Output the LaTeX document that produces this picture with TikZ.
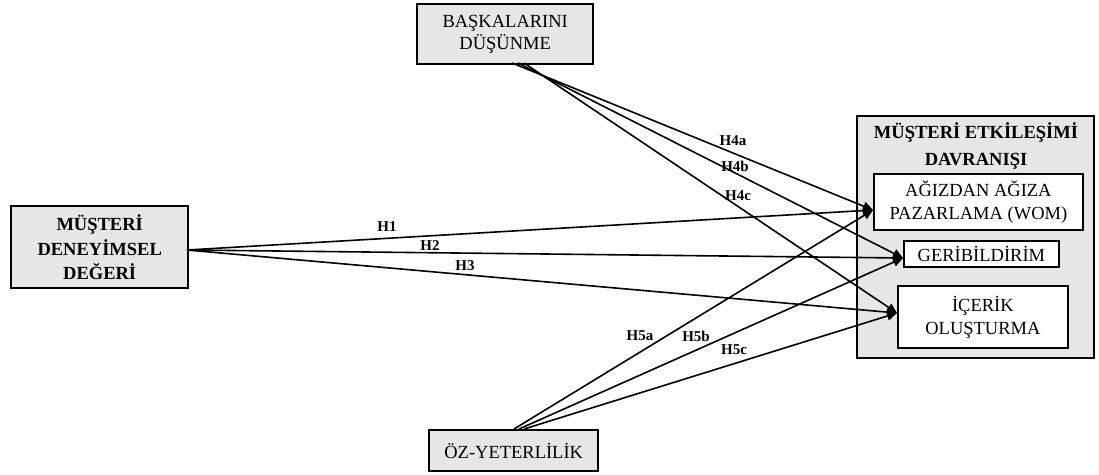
\documentclass[tikz,border=0pt]{standalone}
\usepackage{fontspec}
\setmainfont{Liberation Serif}
\usetikzlibrary{arrows.meta}
\definecolor{boxgray}{HTML}{E6E6E6}
\tikzset{
  gbox/.style={draw=black, line width=2.4pt, fill=boxgray, inner sep=0pt, align=center, font=\fontsize{18.5}{22}\selectfont},
  wbox/.style={draw=black, line width=1.8pt, fill=white, inner sep=0pt, align=center, font=\fontsize{18.5}{23}\selectfont},
  conn/.style={line width=1.6pt, -{Triangle[length=10pt,width=9pt]}},
  hlab/.style={font=\bfseries\fontsize{15}{17}\selectfont, inner sep=1pt},
}
\begin{document}
\begin{tikzpicture}[x=1pt,y=-1pt]
\useasboundingbox (0,0) rectangle (1099,474);
% outer box
\node[gbox, minimum width=237pt, minimum height=242pt, anchor=north west] (med) at (856,115) {};
\node[font=\bfseries\fontsize{18.5}{27}\selectfont, align=center] (medt) at (976,146) {MÜŞTERİ ETKİLEŞİMİ\\DAVRANIŞI};
% source boxes
\node[gbox, minimum width=176pt, minimum height=60pt, anchor=north west] (bd) at (416,3) {BAŞKALARINI\\DÜŞÜNME};
\node[gbox, minimum width=177pt, minimum height=82pt, anchor=north west, font=\bfseries\fontsize{18.5}{24.5}\selectfont] (mdd) at (10,205) {MÜŞTERİ\\DENEYİMSEL\\DEĞERİ};
\node[gbox, minimum width=169pt, minimum height=41pt, anchor=north west] (oz) at (428,429) {ÖZ-YETERLİLİK};
% start / end coordinates
\coordinate (s1) at (187,250);
\coordinate (b1) at (512,63);
\coordinate (b2) at (518,63);
\coordinate (b3) at (524,63);
\coordinate (o1) at (514,429);
\coordinate (o2) at (519,429);
\coordinate (o3) at (524,429);
\coordinate (tw) at (873,210);
\coordinate (tg) at (903,258);
\coordinate (ti) at (897,313);
% connectors
\draw[conn] (s1) -- (tw);
\draw[conn] (s1) -- (tg);
\draw[conn] (s1) -- (ti);
\draw[conn] (b1) -- (tw);
\draw[conn] (b2) -- (tg);
\draw[conn] (b3) -- (ti);
\draw[conn] (o1) -- (tw);
\draw[conn] (o2) -- (tg);
\draw[conn] (o3) -- (ti);
% inner boxes
\node[wbox, minimum width=209pt, minimum height=56pt, anchor=north west] (wom) at (873,173) {AĞIZDAN AĞIZA\\PAZARLAMA (WOM)};
\node[wbox, minimum width=155pt, minimum height=26pt, anchor=north west] (geri) at (903,240) {GERİBİLDİRİM};
\node[wbox, minimum width=170pt, minimum height=62pt, anchor=north west] (ice) at (897,285) {İÇERİK\\OLUŞTURMA};
% labels
\node[hlab] (h1) at (387,227) {H1};
\node[hlab] (h2) at (430,246) {H2};
\node[hlab] (h3) at (465,266) {H3};
\node[hlab] (h4a) at (733,141) {H4a};
\node[hlab] (h4b) at (735,166) {H4b};
\node[hlab] (h4c) at (738,196) {H4c};
\node[hlab] (h5a) at (640,336) {H5a};
\node[hlab] (h5b) at (696,336) {H5b};
\node[hlab] (h5c) at (734,350) {H5c};
\end{tikzpicture}
\end{document}
